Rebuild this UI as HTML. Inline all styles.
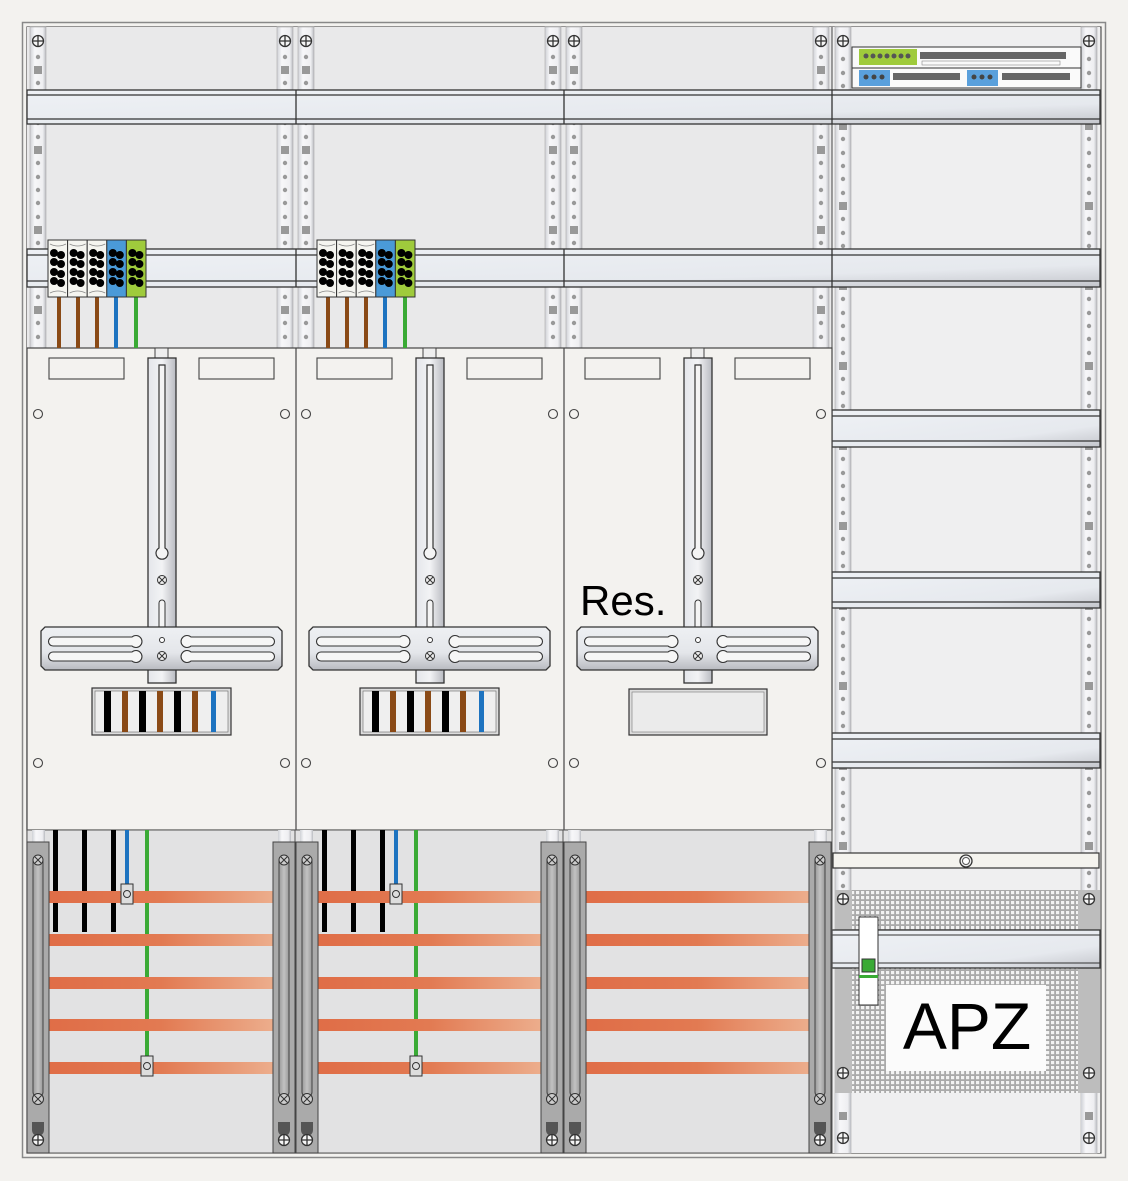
<!DOCTYPE html>
<html><head><meta charset="utf-8"><style>
html,body{margin:0;padding:0;background:#f3f2ef;}
svg{display:block;}
</style></head><body>
<svg width="1128" height="1181" viewBox="0 0 1128 1181" xmlns="http://www.w3.org/2000/svg">
<defs>
<linearGradient id="rail" x1="0" x2="1" y1="0" y2="0">
<stop offset="0" stop-color="#cfd1d6"/><stop offset="0.3" stop-color="#f7f7f9"/><stop offset="0.8" stop-color="#eeeef1"/><stop offset="1" stop-color="#b9bbc0"/></linearGradient>
<linearGradient id="din" x1="0" x2="1" y1="0" y2="1">
<stop offset="0" stop-color="#eef1f5"/><stop offset="0.7" stop-color="#e6e9ee"/><stop offset="1" stop-color="#c4c6cc"/></linearGradient>
<linearGradient id="bar" x1="0" x2="1"><stop offset="0" stop-color="#df6b45"/><stop offset="0.5" stop-color="#e27a52"/><stop offset="1" stop-color="#eeb696"/></linearGradient>
<linearGradient id="mbar" x1="0" x2="1"><stop offset="0" stop-color="#e4e6ea"/><stop offset="0.5" stop-color="#f2f3f5"/><stop offset="1" stop-color="#b9bbc1"/></linearGradient>
<linearGradient id="plate" x1="0" x2="0" y1="0" y2="1"><stop offset="0" stop-color="#eef0f3"/><stop offset="0.6" stop-color="#e4e6ea"/><stop offset="1" stop-color="#b8bac0"/></linearGradient>
<linearGradient id="gbar" x1="0" x2="1"><stop offset="0" stop-color="#9a9a9a"/><stop offset="0.5" stop-color="#c2c2c2"/><stop offset="1" stop-color="#9a9a9a"/></linearGradient>
<pattern id="holes" x="0" y="0" width="16" height="80" patternUnits="userSpaceOnUse">
<circle cx="8" cy="6" r="2.2" fill="#999"/><rect x="4" y="15" width="8" height="8" fill="#999"/><circle cx="8" cy="32" r="2.2" fill="#999"/><circle cx="8" cy="46" r="2.2" fill="#999"/><circle cx="8" cy="59" r="2.2" fill="#999"/><circle cx="8" cy="72" r="2.2" fill="#999"/>
</pattern>
<pattern id="mesh" width="5" height="5" patternUnits="userSpaceOnUse"><rect width="5" height="5" fill="#aaa"/><rect x="1" y="1" width="3.2" height="3.2" fill="#f3f3f3"/></pattern>
<g id="screw"><circle r="5.5" fill="#f5f5f5" stroke="#333" stroke-width="1.3"/><path d="M-5.5 0H5.5M0 -5.5V5.5" stroke="#333" stroke-width="1.3"/></g>
<g id="vrail"><rect x="0" y="0" width="16" height="321" fill="url(#rail)" stroke="#aaa" stroke-width="0.6"/><rect x="0" y="0" width="16" height="321" fill="url(#holes)" transform="translate(0,24)"/></g>
<g id="lrail"><rect x="0" y="0" width="16" height="1126" fill="url(#rail)" stroke="#aaa" stroke-width="0.6"/><rect x="0" y="24" width="16" height="1100" fill="url(#holes)"/></g>
<g id="tblock">
<rect x="0" y="0" width="19.6" height="57" fill="#f5f5f0" stroke="#333" stroke-width="1"/>
<g fill="#000"><circle cx="6" cy="13" r="4"/><circle cx="13" cy="15" r="4"/><circle cx="6" cy="22" r="4"/><circle cx="13" cy="24" r="4"/><circle cx="6" cy="32" r="4"/><circle cx="13" cy="34" r="4"/><circle cx="6" cy="41" r="4"/><circle cx="13" cy="43" r="4"/></g>
<path d="M2 4 Q10 8 18 4 M2 53 Q10 49 18 53" stroke="#888" fill="none" stroke-width="0.8"/>
</g>
<g id="mount">
<rect x="155" y="348" width="13" height="11" fill="#eee" stroke="#444"/>
<rect x="148" y="358" width="28" height="325" fill="url(#mbar)" stroke="#333" stroke-width="1.3"/>
<path d="M159 365 h6 v183 a6 6 0 1 1 -6 0 z" fill="#f4f4f4" stroke="#333" stroke-width="1.2"/>
<g transform="translate(162,580)"><circle r="4.5" fill="#eee" stroke="#333"/><path d="M-3 -3L3 3M3 -3L-3 3" stroke="#333"/></g>
<path d="M159 603 a3 3 0 0 1 6 0 v27 h-6z" fill="#f4f4f4" stroke="#333"/>
<path d="M45 627 h233 l4 4 v35 l-4 4 h-233 l-4 -4 v-35z" fill="url(#plate)" stroke="#333" stroke-width="1.3"/>
<path d="M53 637 h79 a6 6 0 1 1 0 9 h-79 a4.5 4.5 0 0 1 0 -9z M53 652 h79 a6 6 0 1 1 0 9 h-79 a4.5 4.5 0 0 1 0 -9z M270 637 h-79 a6 6 0 1 0 0 9 h79 a4.5 4.5 0 0 0 0 -9z M270 652 h-79 a6 6 0 1 0 0 9 h79 a4.5 4.5 0 0 0 0 -9z" fill="#f6f6f6" stroke="#333" stroke-width="1.1"/>
<circle cx="162" cy="640" r="2.5" fill="#fff" stroke="#333"/>
<g transform="translate(162,656)"><circle r="4.5" fill="#eee" stroke="#333"/><path d="M-3 -3L3 3M3 -3L-3 3" stroke="#333"/></g>
</g>
<g id="colTop">
<rect x="27" y="27" width="269" height="321" fill="#e9e9ea"/>
<use href="#vrail" x="30" y="27"/><use href="#vrail" x="277" y="27"/>
<use href="#screw" x="38" y="41"/><use href="#screw" x="285" y="41"/>
</g>
<g id="colLow">
<rect x="27" y="830" width="269" height="323" fill="#e2e2e3" stroke="#555"/>
<rect x="32" y="830" width="13" height="13" fill="url(#rail)"/><rect x="278" y="830" width="13" height="13" fill="url(#rail)"/>
</g>
<g id="bars">
<rect x="30" y="891" width="262" height="12" fill="url(#bar)"/>
<rect x="30" y="934" width="262" height="12" fill="url(#bar)"/>
<rect x="30" y="977" width="262" height="12" fill="url(#bar)"/>
<rect x="30" y="1019" width="262" height="12" fill="url(#bar)"/>
<rect x="30" y="1062" width="262" height="12" fill="url(#bar)"/>
</g>
<g id="gbars">
<rect x="27" y="842" width="22" height="311" fill="#aaa" stroke="#444"/>
<rect x="33" y="857" width="10" height="240" rx="5" fill="url(#gbar)" stroke="#444"/>
<g transform="translate(38,860)"><circle r="5" fill="#ccc" stroke="#333"/><path d="M-3 -3L3 3M3 -3L-3 3" stroke="#333"/></g>
<g transform="translate(38,1099)"><circle r="5.5" fill="#ccc" stroke="#333"/><path d="M-3.5 -3.5L3.5 3.5M3.5 -3.5L-3.5 3.5" stroke="#333"/></g>
<path d="M32 1122 h12 v8 a6 6 0 0 1 -12 0z" fill="#555"/>
<use href="#screw" x="38" y="1140"/>
</g>
</defs>

<rect x="0" y="0" width="1128" height="1181" fill="#f3f2ef"/>
<rect x="22.5" y="22.5" width="1083" height="1135" fill="#f3f2ef" stroke="#888" stroke-width="1.5"/>
<rect x="27" y="27" width="1074" height="1126" fill="#e6e6e7" stroke="#555" stroke-width="1.2"/>

<use href="#colTop"/><use href="#colTop" x="268"/><use href="#colTop" x="536"/>
<rect x="832" y="27" width="268" height="1126" fill="#efeff0"/>
<use href="#lrail" x="835" y="27"/>
<use href="#lrail" x="1081" y="27"/>
<use href="#screw" x="843" y="41"/><use href="#screw" x="1089" y="41"/>
<line x1="832" y1="27" x2="832" y2="1153" stroke="#444" stroke-width="1"/>

<!-- top terminal strip -->
<rect x="852" y="47" width="229" height="21" fill="#fafafa" stroke="#333"/>
<rect x="852" y="68" width="229" height="20" fill="#fafafa" stroke="#333"/>
<rect x="859" y="49" width="58" height="16" fill="#9fcb3c"/>
<g fill="#555"><circle cx="866" cy="56" r="2.5"/><circle cx="873" cy="56" r="2.5"/><circle cx="880" cy="56" r="2.5"/><circle cx="887" cy="56" r="2.5"/><circle cx="894" cy="56" r="2.5"/><circle cx="901" cy="56" r="2.5"/><circle cx="908" cy="56" r="2.5"/></g>
<rect x="920" y="52" width="146" height="7" fill="#666"/>
<rect x="922" y="61" width="138" height="4" fill="none" stroke="#888" stroke-width="0.6"/>
<rect x="859" y="70" width="31" height="16" fill="#5aa0dc"/>
<g fill="#444"><circle cx="866" cy="77" r="2.5"/><circle cx="874" cy="77" r="2.5"/><circle cx="882" cy="77" r="2.5"/></g>
<rect x="893" y="73" width="67" height="7" fill="#666"/>
<rect x="967" y="70" width="31" height="16" fill="#5aa0dc"/>
<g fill="#444"><circle cx="974" cy="77" r="2.5"/><circle cx="982" cy="77" r="2.5"/><circle cx="990" cy="77" r="2.5"/></g>
<rect x="1002" y="73" width="68" height="7" fill="#666"/>

<g stroke="#333" stroke-width="1.3">
<rect x="27" y="90" width="1073" height="34" fill="url(#din)"/>
<line x1="27" y1="95" x2="1100" y2="95"/><line x1="27" y1="119" x2="1100" y2="119"/>
<rect x="27" y="249" width="1073" height="38" fill="url(#din)"/>
<line x1="27" y1="255" x2="1100" y2="255"/><line x1="27" y1="281" x2="1100" y2="281"/>
<line x1="296" y1="90" x2="296" y2="124"/><line x1="564" y1="90" x2="564" y2="124"/><line x1="832" y1="90" x2="832" y2="124"/>
<line x1="296" y1="249" x2="296" y2="287"/><line x1="564" y1="249" x2="564" y2="287"/><line x1="832" y1="249" x2="832" y2="287"/>
<rect x="832" y="410" width="268" height="37" fill="url(#din)"/>
<line x1="832" y1="416" x2="1100" y2="416"/><line x1="832" y1="441" x2="1100" y2="441"/>
<rect x="832" y="572" width="268" height="36" fill="url(#din)"/>
<line x1="832" y1="578" x2="1100" y2="578"/><line x1="832" y1="602" x2="1100" y2="602"/>
<rect x="832" y="733" width="268" height="35" fill="url(#din)"/>
<line x1="832" y1="739" x2="1100" y2="739"/><line x1="832" y1="762" x2="1100" y2="762"/>
</g>
<rect x="833" y="853" width="266" height="15" fill="#f4f3ee" stroke="#333" stroke-width="1.2"/>
<circle cx="966" cy="861" r="6" fill="#eee" stroke="#333" stroke-width="1.3"/><circle cx="966" cy="861" r="3.5" fill="#fff" stroke="#555"/>

<!-- APZ -->
<rect x="835" y="890" width="265" height="203" fill="#bdbdbd"/>
<rect x="852" y="890" width="226" height="203" fill="url(#mesh)"/>
<use href="#screw" x="843" y="899"/><use href="#screw" x="1089" y="899"/>
<use href="#screw" x="843" y="1073"/><use href="#screw" x="1089" y="1073"/>
<rect x="835" y="1093" width="16" height="60" fill="url(#rail)"/><rect x="1081" y="1093" width="16" height="60" fill="url(#rail)"/>
<rect x="839" y="1112" width="8" height="8" fill="#999"/><rect x="1085" y="1112" width="8" height="8" fill="#999"/>
<use href="#screw" x="843" y="1138"/><use href="#screw" x="1089" y="1138"/>
<rect x="886" y="985" width="160" height="86" fill="#fbfbfb"/>
<text x="967" y="1049" font-family="Liberation Sans, Arial, sans-serif" font-size="66" text-anchor="middle" fill="#000">APZ</text>
<rect x="832" y="930" width="268" height="38" fill="url(#din)" stroke="#333" stroke-width="1.3"/>
<line x1="832" y1="935" x2="1100" y2="935" stroke="#333"/><line x1="832" y1="963" x2="1100" y2="963" stroke="#333"/>
<rect x="859" y="917" width="19" height="88" fill="#fff" stroke="#333"/>
<rect x="862" y="959" width="13" height="13" fill="#3aaa35" stroke="#333"/>
<rect x="859" y="975" width="19" height="3" fill="#3aaa35"/>

<!-- meter panel -->
<rect x="27" y="348" width="805" height="482" fill="#f3f2ef" stroke="#444" stroke-width="1.2"/>
<line x1="296" y1="348" x2="296" y2="830" stroke="#444" stroke-width="1.2"/>
<line x1="564" y1="348" x2="564" y2="830" stroke="#444" stroke-width="1.2"/>
<g fill="none" stroke="#444" stroke-width="1.1">
<rect x="49" y="358" width="75" height="21"/><rect x="199" y="358" width="75" height="21"/>
<rect x="317" y="358" width="75" height="21"/><rect x="467" y="358" width="75" height="21"/>
<rect x="585" y="358" width="75" height="21"/><rect x="735" y="358" width="75" height="21"/>
<circle cx="38" cy="414" r="4.5"/><circle cx="285" cy="414" r="4.5"/><circle cx="38" cy="763" r="4.5"/><circle cx="285" cy="763" r="4.5"/>
<circle cx="306" cy="414" r="4.5"/><circle cx="553" cy="414" r="4.5"/><circle cx="306" cy="763" r="4.5"/><circle cx="553" cy="763" r="4.5"/>
<circle cx="574" cy="414" r="4.5"/><circle cx="821" cy="414" r="4.5"/><circle cx="574" cy="763" r="4.5"/><circle cx="821" cy="763" r="4.5"/>
</g>
<use href="#mount"/><use href="#mount" x="268"/><use href="#mount" x="536"/>
<text x="580" y="615" font-family="Liberation Sans, Arial, sans-serif" font-size="42" fill="#000">Res.</text>

<g id="mterm">
<rect x="92" y="688" width="139" height="47" fill="#ddd" stroke="#333" stroke-width="1.2"/>
<rect x="95" y="691" width="133" height="41" fill="#efefef" stroke="#666" stroke-width="0.6"/>
<rect x="104" y="691" width="7" height="41" fill="#000"/><rect x="122" y="691" width="6" height="41" fill="#8a4a16"/>
<rect x="139" y="691" width="7" height="41" fill="#000"/><rect x="157" y="691" width="6" height="41" fill="#8a4a16"/>
<rect x="174" y="691" width="7" height="41" fill="#000"/><rect x="192" y="691" width="6" height="41" fill="#8a4a16"/>
<rect x="211" y="691" width="5" height="41" fill="#1d73c0"/>
</g>
<use href="#mterm" x="268"/>
<rect x="629" y="689" width="138" height="46" fill="#ddd" stroke="#333" stroke-width="1.2"/>
<rect x="632" y="692" width="132" height="40" fill="#ebebeb" stroke="#777" stroke-width="0.6"/>

<g id="tb">
<rect x="57" y="297" width="4" height="51" fill="#8a4a16"/><rect x="76" y="297" width="4" height="51" fill="#8a4a16"/><rect x="95" y="297" width="4" height="51" fill="#8a4a16"/>
<rect x="114" y="297" width="4" height="51" fill="#1d73c0"/><rect x="134" y="297" width="4" height="51" fill="#3aaa35"/>
<use href="#tblock" x="48" y="240"/><use href="#tblock" x="67.6" y="240"/><use href="#tblock" x="87.2" y="240"/>
<rect x="106.8" y="240" width="19.6" height="57" fill="#4a9ad8" stroke="#333"/>
<rect x="126.4" y="240" width="19.6" height="57" fill="#9fcb3c" stroke="#333"/>
<g fill="#000"><circle cx="112.8" cy="253" r="4"/><circle cx="119.8" cy="255" r="4"/><circle cx="112.8" cy="262" r="4"/><circle cx="119.8" cy="264" r="4"/><circle cx="112.8" cy="272" r="4"/><circle cx="119.8" cy="274" r="4"/><circle cx="112.8" cy="281" r="4"/><circle cx="119.8" cy="283" r="4"/>
<circle cx="132.4" cy="253" r="4"/><circle cx="139.4" cy="255" r="4"/><circle cx="132.4" cy="262" r="4"/><circle cx="139.4" cy="264" r="4"/><circle cx="132.4" cy="272" r="4"/><circle cx="139.4" cy="274" r="4"/><circle cx="132.4" cy="281" r="4"/><circle cx="139.4" cy="283" r="4"/></g>
</g>
<use href="#tb" x="269"/>

<use href="#colLow"/><use href="#colLow" x="268"/><use href="#colLow" x="536"/>
<g id="wires">
<rect x="53" y="830" width="5" height="102" fill="#000"/><rect x="82" y="830" width="5" height="102" fill="#000"/><rect x="111" y="830" width="5" height="102" fill="#000"/>
<rect x="125" y="830" width="4" height="60" fill="#1d73c0"/>
<rect x="145" y="830" width="4" height="240" fill="#3aaa35"/>
</g>
<use href="#wires" x="269"/>
<use href="#bars"/><use href="#bars" x="268"/><use href="#bars" x="536"/>
<g id="clamps">
<rect x="121" y="884" width="12" height="20" fill="#ddd" stroke="#333"/><circle cx="127" cy="894" r="3.5" fill="none" stroke="#333"/>
<rect x="141" y="1056" width="12" height="20" fill="#ddd" stroke="#333"/><circle cx="147" cy="1066" r="3.5" fill="none" stroke="#333"/>
</g>
<use href="#clamps" x="269"/>
<use href="#gbars"/><use href="#gbars" x="246"/><use href="#gbars" x="269"/><use href="#gbars" x="514"/><use href="#gbars" x="537"/><use href="#gbars" x="782"/>
</svg>
</body></html>
